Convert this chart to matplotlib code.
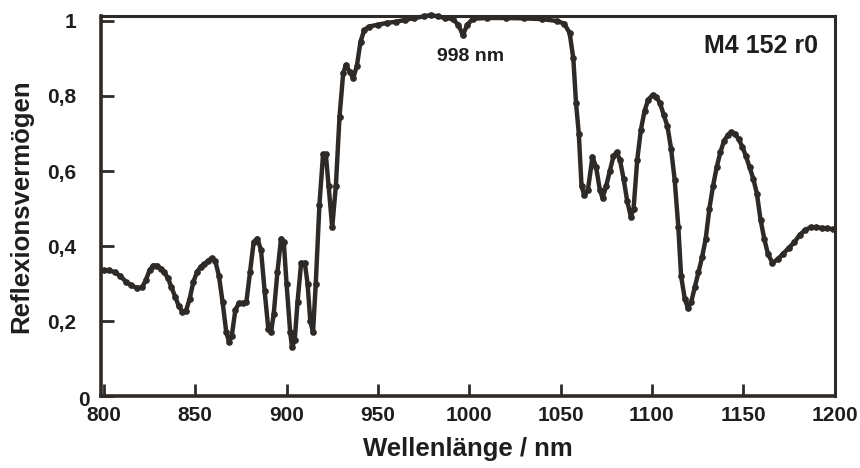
import matplotlib
matplotlib.use("Agg")
import matplotlib.pyplot as plt
from matplotlib.transforms import ScaledTranslation

plt.rcParams['font.family'] = ['Liberation Sans', 'DejaVu Sans']
plt.rcParams['font.weight'] = 'bold'

wavelength = [800, 803, 806, 809, 812, 815, 818, 821, 823, 825, 827, 829, 831, 833, 835, 837, 839,
              841, 843, 845, 847, 849, 851, 853, 855, 857, 859, 861, 863, 865, 867, 868.5, 870,
              872, 874, 876, 878, 880, 882, 884, 886, 888, 890, 891.5, 893, 895, 897, 898.5, 900,
              902, 903, 904.5, 906, 908, 910, 911.5, 913, 914.5, 916, 918, 920, 921.5, 923, 925,
              927, 929, 931, 932.5, 934.5, 936.5, 938.5, 940.5, 942.5, 945, 950, 955, 960, 965,
              970, 975, 979, 983, 987, 991, 994, 996.5, 999, 1002, 1010, 1020, 1030, 1040, 1048,
              1052, 1055, 1057, 1058.5, 1060, 1061.5, 1063, 1065, 1067.5, 1069.5, 1071.5, 1073,
              1075, 1077, 1079, 1080.7, 1082.5, 1084.5, 1086.5, 1088.5, 1090, 1092, 1094, 1096,
              1098, 1100.5, 1102.5, 1104.5, 1106.5, 1108.5, 1110.5, 1112.5, 1114.5, 1116, 1118,
              1119.7, 1121.5, 1123.5, 1125.5, 1127.5, 1129.5, 1131.5, 1133.5, 1135.5, 1137.5,
              1139.5, 1141.5, 1143.5, 1145.5, 1147.5, 1149.5, 1151.5, 1153.5, 1155.5, 1157.5,
              1159.5, 1161.5, 1163.5, 1166, 1169, 1172, 1175, 1178, 1181, 1184, 1187, 1190, 1193,
              1196, 1199]
reflectance = [0.335, 0.335, 0.33, 0.32, 0.305, 0.295, 0.288, 0.29, 0.31, 0.335, 0.348, 0.348, 0.34,
               0.33, 0.315, 0.29, 0.265, 0.24, 0.225, 0.228, 0.26, 0.305, 0.33, 0.345, 0.352, 0.36,
               0.368, 0.36, 0.32, 0.25, 0.17, 0.145, 0.16, 0.23, 0.248, 0.248, 0.25, 0.33, 0.41,
               0.42, 0.39, 0.28, 0.18, 0.17, 0.22, 0.33, 0.42, 0.41, 0.3, 0.17, 0.13, 0.15, 0.25,
               0.355, 0.355, 0.3, 0.2, 0.17, 0.3, 0.51, 0.645, 0.645, 0.56, 0.45, 0.56, 0.745, 0.86,
               0.883, 0.865, 0.848, 0.88, 0.945, 0.975, 0.985, 0.99, 0.995, 0.998, 1.003, 1.008,
               1.012, 1.016, 1.012, 1.008, 1.005, 0.99, 0.963, 0.99, 1.006, 1.008, 1.008, 1.007,
               1.005, 1.0, 0.993, 0.968, 0.9, 0.78, 0.7, 0.56, 0.535, 0.55, 0.638, 0.61, 0.55,
               0.528, 0.56, 0.6, 0.64, 0.65, 0.63, 0.58, 0.52, 0.478, 0.5, 0.63, 0.71, 0.76, 0.79,
               0.803, 0.798, 0.78, 0.75, 0.72, 0.66, 0.576, 0.45, 0.32, 0.26, 0.235, 0.25, 0.29,
               0.33, 0.37, 0.42, 0.5, 0.56, 0.61, 0.65, 0.68, 0.695, 0.704, 0.7, 0.685, 0.665, 0.64,
               0.61, 0.58, 0.54, 0.47, 0.42, 0.38, 0.355, 0.365, 0.38, 0.395, 0.41, 0.43, 0.443,
               0.45, 0.45, 0.448, 0.447, 0.445]

x_ticks = [800, 850, 900, 950, 1000, 1050, 1100, 1150, 1200]
y_ticks = [0, 0.2, 0.4, 0.6, 0.8, 1.0]
y_tick_labels = ["0", "0,2", "0,4", "0,6", "0,8", "1"]
x_label = "Wellenlänge / nm"
y_label = "Reflexionsvermögen"
sample_label = "M4 152 r0"
dip_label = "998 nm"

ink = "#2e2a27"

fig = plt.figure(figsize=(8.6, 4.68), dpi=100)
ax = fig.add_axes([0.1174, 0.1538, 0.971 - 0.1174, 0.9658 - 0.1538])

ax.plot(wavelength, reflectance, color=ink, lw=3.2, marker='o', markersize=3.8,
        markerfacecolor=ink, markeredgecolor=ink, solid_joinstyle='round', clip_on=False, zorder=3)

ax.set_xlim(798.4, 1200.3)
ax.set_ylim(0, 1.0133)

ax.set_xticks(x_ticks)
ax.set_xticklabels([str(t) for t in x_ticks])
ax.set_yticks(y_ticks)
ax.set_yticklabels(y_tick_labels)

ax.tick_params(axis='both', direction='in', length=9, width=2, colors=ink, labelsize=15)
ax.tick_params(axis='x', pad=7)
ax.tick_params(axis='y', pad=18)
for lab in ax.get_xticklabels() + ax.get_yticklabels():
    lab.set_fontweight('bold')
    lab.set_color('#1e1e1e')

# shift the "0" label down-right like the original
zero = ax.get_yticklabels()[0]
zero.set_transform(zero.get_transform() + ScaledTranslation(14 / 100, -2 / 100, fig.dpi_scale_trans))

for side, lw in [('left', 2.6), ('bottom', 2.6), ('top', 2.2), ('right', 2.2)]:
    ax.spines[side].set_linewidth(lw)
    ax.spines[side].set_color(ink)

ax.set_xlabel(x_label, fontsize=18.5, fontweight='bold', color='#1e1e1e', labelpad=9)
ax.set_ylabel(y_label, fontsize=18.5, fontweight='bold', color='#1e1e1e', labelpad=10)

ax.text(1000.5, 0.905, dip_label, fontsize=14, fontweight='bold', ha='center', va='center', color='#1e1e1e')
ax.text(1190.7, 0.932, sample_label, fontsize=18, fontweight='bold', ha='right', va='center', color='#1e1e1e')

fig.savefig("out.png", dpi=100)
